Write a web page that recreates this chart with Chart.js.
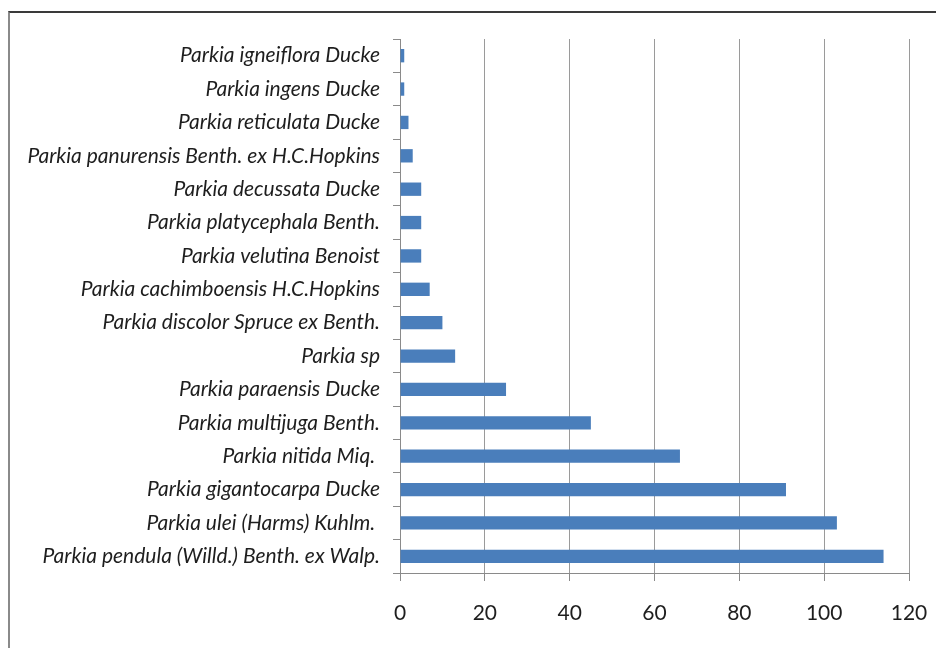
<!DOCTYPE html>
<html>
<head>
<meta charset="utf-8">
<script src="https://cdn.jsdelivr.net/npm/chart.js@4"></script>
<style>
  html, body { margin: 0; padding: 0; background: #fff; }
  #wrap { position: relative; width: 936px; height: 648px; overflow: hidden; }
  #frame {
    position: absolute; left: 8px; top: 11px; right: -4px; bottom: -4px;
    border-top: 2px solid #3a3a3a; border-left: 2px solid #8a8a8a;
    pointer-events: none;
  }
  canvas { position: absolute; left: 0; top: 0; }
</style>
</head>
<body>
<div id="wrap">
  <canvas id="c" width="936" height="648"></canvas>
  <div id="frame"></div>
</div>
<script>
// Species (top to bottom) and number of records per species
const species = [
  "Parkia igneiflora Ducke",
  "Parkia ingens Ducke",
  "Parkia reticulata Ducke",
  "Parkia panurensis Benth. ex H.C.Hopkins",
  "Parkia decussata Ducke",
  "Parkia platycephala Benth.",
  "Parkia velutina Benoist",
  "Parkia cachimboensis H.C.Hopkins",
  "Parkia discolor Spruce ex Benth.",
  "Parkia sp",
  "Parkia paraensis Ducke",
  "Parkia multijuga Benth.",
  "Parkia nitida Miq. ",
  "Parkia gigantocarpa Ducke",
  "Parkia ulei (Harms) Kuhlm. ",
  "Parkia pendula (Willd.) Benth. ex Walp."
];
const records = [1, 1, 2, 3, 5, 5, 5, 7, 10, 13, 25, 45, 66, 91, 103, 114];

// Value axis range and step
const axisMin = 0;
const axisMax = 120;
const axisStep = 20;

new Chart(document.getElementById('c'), {
  type: 'bar',
  data: {
    labels: species,
    datasets: [{
      data: records,
      backgroundColor: '#4a7ebb',
      borderWidth: 0,
      barPercentage: 0.4,
      categoryPercentage: 1.0
    }]
  },
  options: {
    indexAxis: 'y',
    responsive: false,
    animation: false,
    layout: { padding: { top: 39, right: 27, bottom: 0, left: 0 } },
    plugins: { legend: { display: false }, tooltip: { enabled: false } },
    scales: {
      x: {
        min: axisMin,
        max: axisMax,
        afterFit: (s) => { s.height = 75; s.paddingLeft = 0; s.paddingRight = 0; },
        ticks: {
          stepSize: axisStep,
          color: '#1e1e1e',
          padding: 20,
          font: { family: 'Lato', size: 21 }
        },
        grid: { color: '#9a9a9a', lineWidth: 1, tickLength: 8, tickColor: '#8a8a8a' },
        border: { color: '#8a8a8a', width: 1 }
      },
      y: {
        afterFit: (s) => { s.width = 400; s.paddingTop = 0; s.paddingBottom = 0; },
        ticks: {
          color: '#1e1e1e',
          padding: 13,
          font: { family: 'Lato', size: 21, style: 'italic' }
        },
        grid: { drawOnChartArea: false, tickLength: 7, tickColor: '#8a8a8a', offset: true },
        border: { color: '#8a8a8a', width: 1 }
      }
    }
  }
});
</script>
</body>
</html>
